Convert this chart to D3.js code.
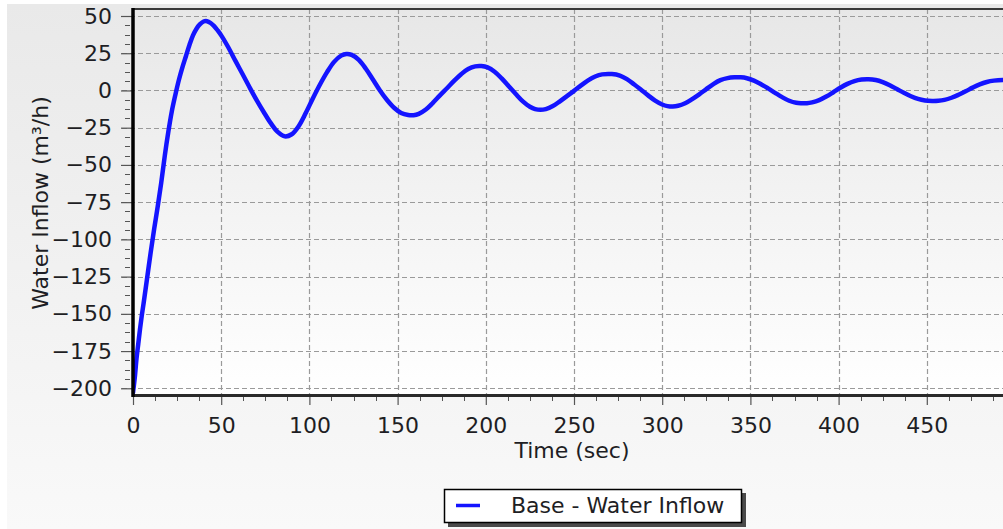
<!DOCTYPE html>
<html>
<head>
<meta charset="utf-8">
<script src="https://cdn.jsdelivr.net/npm/d3@7"></script>
<style>
  html, body { margin: 0; padding: 0; background: #ffffff; }
  svg { display: block; font-family: "DejaVu Sans", Verdana, sans-serif; }
  text { fill: #1e1e24; }
</style>
</head>
<body>
<svg id="chart" width="1003" height="529"></svg>
<script>
// Water inflow response of the base case (seconds, m³/h)
const timeSec = [0, 1, 2, 3, 4, 5, 6, 8, 10, 12, 14, 16, 18, 20, 22, 24, 26, 28, 30, 32, 34, 36, 38, 40, 42, 44, 46, 48, 50,
  54, 58, 62, 66, 70, 74, 78, 82, 86, 90, 94, 98, 102, 106, 110, 114, 118, 121, 124, 128, 132, 136, 140, 144, 148, 152, 156,
  159, 162, 166, 170, 174, 178, 182, 186, 190, 194, 197.5, 201, 205, 209, 213, 217, 221, 225, 228, 231, 234, 238, 242, 246,
  250, 254, 258, 262, 266, 271.5, 276, 280, 284, 288, 292, 296, 300, 303, 306, 309, 313, 317, 321, 325, 329, 333, 337, 341,
  344.5, 348, 352, 356, 360, 364, 368, 372, 376, 379, 382, 385, 389, 393, 397, 401, 405, 409, 413, 417, 421, 425, 429, 433,
  437, 441, 445, 449, 453, 456.5, 460, 464, 468, 472, 476, 480, 484, 488, 493, 497, 500];
const waterInflow = [-203, -193, -180, -170, -160, -151, -143, -126, -109, -93, -78, -62, -44, -28, -14, -3, 7, 15.5, 23, 30.5, 37, 41.5, 44.5, 46.3, 46.5, 45.3, 43.2, 40.3, 37,
  29, 20, 11.2, 2.3, -6.3, -14.3, -21.8, -27.8, -30.8, -29.4, -23.8, -15, -5.2, 4, 12.3, 19.2, 23.4, 24.5, 23.9, 20.6, 14.6, 7.4, 0, -6.4, -11.6, -15.1, -16.5,
  -16.6, -15.7, -12.8, -8.3, -3.3, 1.5, 6.4, 10.9, 14.4, 16.2, 16.4, 15.5, 12.6, 8.1, 2.8, -2.4, -7.3, -10.9, -12.5, -13, -12.5, -10.5, -7.3, -3.8,
  -0.3, 3.4, 6.8, 9.4, 10.8, 11, 10, 7.6, 4.2, 0.5, -3.3, -6.8, -9.4, -10.5, -10.8, -10.3, -8.6, -5.8, -2.6, 0.9, 4.3, 6.9, 8.3, 8.8,
  8.8, 8.2, 6.6, 4.2, 1.4, -1.6, -4.5, -6.9, -8.3, -8.6, -8.6, -8, -6.5, -4.1, -1.2, 1.8, 4.4, 6.3, 7.3, 7.5, 7, 5.6, 3.5, 1,
  -1.6, -3.9, -5.7, -6.7, -7, -6.9, -6.3, -4.9, -2.9, -0.6, 1.9, 4.1, 5.7, 6.6, 7, 6.8, 6.3];

const xTicks = [0, 50, 100, 150, 200, 250, 300, 350, 400, 450];
const yTicks = [50, 25, 0, -25, -50, -75, -100, -125, -150, -175, -200];
const seriesName = "Base - Water Inflow";
const xTitle = "Time (sec)";
const yTitle = "Water Inflow (m³/h)";

const svg = d3.select("#chart");
const W = 1003, H = 529;
const plot = { left: 133, right: 1015, top: 9, bottom: 395 };

const x = d3.scaleLinear().domain([0, 500]).range([plot.left, plot.right]);
const y = d3.scaleLinear().domain([-204.5, 54.7]).range([plot.bottom, plot.top]);

const defs = svg.append("defs");
const panelGrad = defs.append("linearGradient").attr("id", "panelGrad").attr("x1", 0).attr("y1", 0).attr("x2", 0).attr("y2", 1);
panelGrad.append("stop").attr("offset", "0%").attr("stop-color", "#e9e9e9");
panelGrad.append("stop").attr("offset", "100%").attr("stop-color", "#f9f9f9");
const plotGrad = defs.append("linearGradient").attr("id", "plotGrad").attr("x1", 0).attr("y1", 0).attr("x2", 0).attr("y2", 1);
plotGrad.append("stop").attr("offset", "0%").attr("stop-color", "#e7e7e7");
plotGrad.append("stop").attr("offset", "100%").attr("stop-color", "#ffffff");
defs.append("clipPath").attr("id", "plotClip").append("rect")
  .attr("x", plot.left).attr("y", plot.top - 2).attr("width", plot.right - plot.left).attr("height", plot.bottom - plot.top + 4);

// outer panel and plot background
svg.append("rect").attr("x", 7).attr("y", 4).attr("width", W - 7).attr("height", H - 4).attr("fill", "url(#panelGrad)");
svg.append("rect").attr("x", plot.left).attr("y", plot.top).attr("width", plot.right - plot.left)
  .attr("height", plot.bottom - plot.top).attr("fill", "url(#plotGrad)");

// dashed grid
const grid = svg.append("g").attr("stroke", "#9a9a9a").attr("stroke-width", 1.2).attr("stroke-dasharray", "5,3");
grid.selectAll("line.gx").data(xTicks.filter(d => d > 0)).join("line")
  .attr("x1", d => Math.round(x(d)) + 0.5).attr("x2", d => Math.round(x(d)) + 0.5)
  .attr("y1", plot.top).attr("y2", plot.bottom);
grid.selectAll("line.gy").data(yTicks).join("line")
  .attr("x1", plot.left - 11).attr("x2", plot.right)
  .attr("y1", d => Math.round(y(d)) + 0.5).attr("y2", d => Math.round(y(d)) + 0.5);

// minor ticks
const xMinor = d3.range(0, 500.01, 12.5).filter(d => d % 50 !== 0);
const yMinor = d3.range(-200, 54, 6.25).filter(d => d % 25 !== 0);
svg.append("g").attr("stroke", "#555").attr("stroke-width", 1)
  .selectAll("line").data(xMinor).join("line")
  .attr("x1", d => Math.round(x(d)) + 0.5).attr("x2", d => Math.round(x(d)) + 0.5)
  .attr("y1", plot.bottom + 2).attr("y2", plot.bottom + 6);
svg.append("g").attr("stroke", "#555").attr("stroke-width", 1)
  .selectAll("line").data(yMinor).join("line")
  .attr("x1", plot.left - 8).attr("x2", plot.left - 3)
  .attr("y1", d => Math.round(y(d)) + 0.5).attr("y2", d => Math.round(y(d)) + 0.5);

// major ticks and labels through d3 axes
const xAxis = svg.append("g").attr("transform", `translate(0,${plot.bottom + 1})`)
  .call(d3.axisBottom(x).tickValues(xTicks).tickSize(9).tickPadding(12).tickFormat(d3.format("d")));
xAxis.select(".domain").remove();
xAxis.selectAll(".tick line").attr("stroke", "#555").attr("stroke-width", 1.2);
xAxis.selectAll(".tick text").attr("font-size", 22).attr("font-family", "DejaVu Sans").attr("fill", "#1e1e24");

const yAxis = svg.append("g").attr("transform", `translate(${plot.left - 1},0)`)
  .call(d3.axisLeft(y).tickValues(yTicks).tickSize(11).tickPadding(9).tickFormat(d3.format("d")));
yAxis.select(".domain").remove();
yAxis.selectAll(".tick line").attr("stroke", "#555").attr("stroke-width", 1.2);
yAxis.selectAll(".tick text").attr("font-size", 22).attr("font-family", "DejaVu Sans").attr("fill", "#1e1e24");

// series
const pts = timeSec.map((t, i) => [t, waterInflow[i]]);
svg.append("path").datum(pts)
  .attr("clip-path", "url(#plotClip)")
  .attr("fill", "none").attr("stroke", "#1414ff").attr("stroke-width", 4.5)
  .attr("stroke-linejoin", "round").attr("stroke-linecap", "round")
  .attr("d", d3.line().x(d => x(d[0])).y(d => y(d[1])).curve(d3.curveCatmullRom.alpha(0.5)));

// plot frame
svg.append("line").attr("x1", plot.left).attr("x2", W).attr("y1", plot.top).attr("y2", plot.top)
  .attr("stroke", "#3a3a3a").attr("stroke-width", 2);
svg.append("line").attr("x1", plot.left - 1).attr("x2", W).attr("y1", plot.bottom + 0.5).attr("y2", plot.bottom + 0.5)
  .attr("stroke", "#2a2a2a").attr("stroke-width", 3);
svg.append("line").attr("x1", plot.left).attr("x2", plot.left).attr("y1", plot.top - 1).attr("y2", plot.bottom + 2)
  .attr("stroke", "#000").attr("stroke-width", 3.5);

// axis titles
svg.append("text").attr("x", 572).attr("y", 458).attr("text-anchor", "middle")
  .attr("font-size", 22).text(xTitle);
svg.append("text").attr("transform", "translate(48,203) rotate(-90)").attr("text-anchor", "middle")
  .attr("font-size", 22).text(yTitle);

// legend
const lg = svg.append("g");
lg.append("rect").attr("x", 448).attr("y", 493).attr("width", 298).attr("height", 34).attr("fill", "#4a4a4a");
lg.append("rect").attr("x", 444.5).attr("y", 489.5).attr("width", 297).attr("height", 33)
  .attr("fill", "#ffffff").attr("stroke", "#000").attr("stroke-width", 1.5);
lg.append("line").attr("x1", 456).attr("x2", 480).attr("y1", 505.5).attr("y2", 505.5)
  .attr("stroke", "#1414ff").attr("stroke-width", 3.5);
lg.append("text").attr("x", 511).attr("y", 513).attr("font-size", 22).text(seriesName);
</script>
</body>
</html>
